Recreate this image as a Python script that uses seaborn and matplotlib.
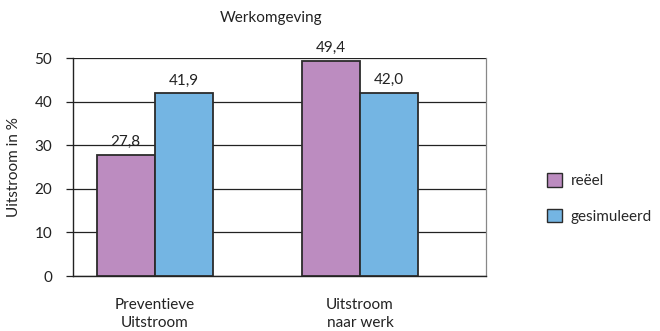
import matplotlib
matplotlib.use("Agg")
import matplotlib.pyplot as plt
import seaborn as sns
import pandas as pd

# Data
categories = ["Preventieve\nUitstroom", "Uitstroom\nnaar werk"]
reeel = [27.8, 49.4]
gesimuleerd = [41.9, 42.0]
series_names = ["reëel", "gesimuleerd"]
y_ticks = [0, 10, 20, 30, 40, 50]

df = pd.DataFrame({
    "categorie": categories * 2,
    "waarde": reeel + gesimuleerd,
    "reeks": [series_names[0]] * len(categories) + [series_names[1]] * len(categories),
})

sns.set_style("white")
plt.rcParams["font.family"] = ["Lato", "DejaVu Sans"]

FS = 11
TXT = "#222"

fig = plt.figure(figsize=(6.6, 3.31), dpi=100)
ax = fig.add_axes([73 / 660, 1 - 276 / 331, (486 - 73) / 660, (276 - 58) / 331])

palette = {"reëel": "#BC8CC0", "gesimuleerd": "#74B5E3"}
sns.barplot(data=df, x="categorie", y="waarde", hue="reeks", palette=palette,
            width=0.57, edgecolor="#2b2b2b", linewidth=1.3, saturation=1,
            ax=ax, zorder=3, legend=True)

ax.set_xlim(-0.4, 1.615)
ax.set_ylim(0, 50)
ax.set_yticks(y_ticks)
ax.set_yticklabels([str(t) for t in y_ticks], fontsize=FS, color=TXT)
ax.yaxis.grid(True, color=TXT, linewidth=0.9, zorder=0)
ax.set_axisbelow(True)
ax.tick_params(axis="y", length=5, width=0.9, color=TXT, pad=10, left=True)
ax.tick_params(axis="x", length=0, pad=16, labelsize=FS, colors=TXT)
for lbl in ax.get_xticklabels():
    lbl.set_linespacing(1.35)
ax.set_xlabel("")
ax.set_ylabel("Uitstroom in %", fontsize=FS, color=TXT)
ax.yaxis.set_label_coords(-0.125, 0.5)

for side in ["left", "bottom"]:
    ax.spines[side].set_color(TXT)
    ax.spines[side].set_linewidth(1.0)
ax.spines["right"].set_color("#888")
ax.spines["right"].set_linewidth(0.9)
ax.spines["top"].set_visible(False)

# value labels above each bar
for cont, vals in zip(ax.containers, [reeel, gesimuleerd]):
    ax.bar_label(cont, labels=[f"{v:.1f}".replace(".", ",") for v in vals],
                 padding=4, fontsize=FS, color=TXT)

ax.set_title("Werkomgeving", fontsize=FS, color=TXT, pad=26, x=0.48)

leg = ax.legend(loc="center left", bbox_to_anchor=(1.115, 0.355), frameon=False,
                fontsize=FS, handlelength=0.95, handleheight=0.95,
                labelspacing=1.35, handletextpad=0.6)
for h in leg.legend_handles:
    h.set_edgecolor("#2b2b2b")
    h.set_linewidth(1.0)

fig.savefig("out.png", dpi=100)
